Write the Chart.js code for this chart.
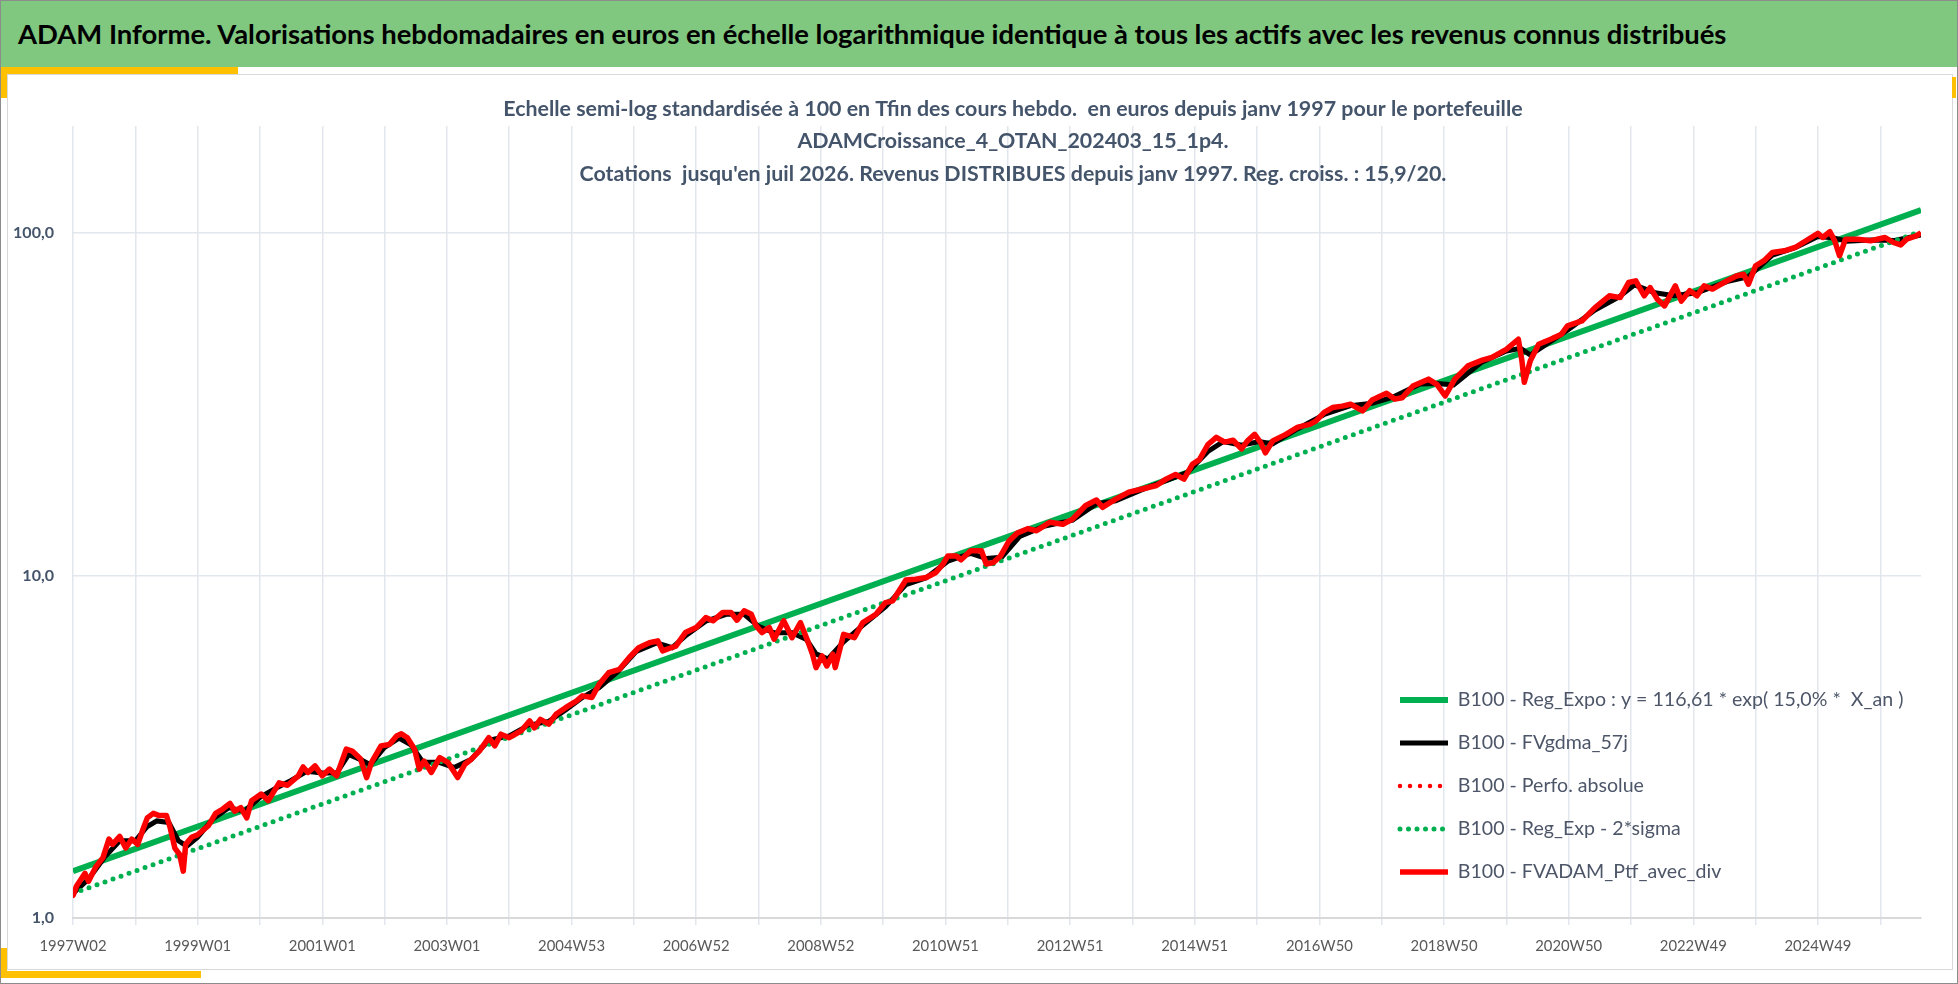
<!DOCTYPE html>
<html lang="fr">
<head>
<meta charset="utf-8">
<title>ADAM Informe</title>
<script src="https://cdn.jsdelivr.net/npm/chart.js@4.4.1/dist/chart.umd.min.js"></script>
<style>
    html, body { margin: 0; padding: 0; background: #fff; }
    #page { position: relative; width: 1958px; height: 984px; overflow: hidden; background: #fff;
            box-sizing: border-box; border: 1px solid #8c8c8c; }
    #banner { position: absolute; left: 0; top: 0; width: 1958px; height: 66px; background: #80c880; z-index: 3; }
    #banner span { position: absolute; left: 17px; top: 50%; transform: translateY(-52%);
                   font-family: Lato, sans-serif; font-weight: 700; color: #000; white-space: nowrap; }
    #card { position: absolute; left: 6px; top: 73px; width: 1946px; height: 896px;
            border: 1px solid #d9d9d9; box-sizing: border-box; background: #fff; z-index: 1; }
    .gold { position: absolute; background: #ffc000; z-index: 4; }
    #chart { position: absolute; left: 0; top: 0; z-index: 2; }
</style>
</head>
<body>
<div id="page">
    <div id="banner"><span id="bannerText"></span></div>
    <div id="card"></div>
    <div class="gold" style="left:0;top:66px;width:237px;height:7px"></div>
    <div class="gold" style="left:0;top:66px;width:6px;height:31px"></div>
    <div class="gold" style="left:1951px;top:76px;width:4px;height:21px"></div>
    <div class="gold" style="left:0;top:947px;width:6px;height:30px"></div>
    <div class="gold" style="left:0;top:970px;width:200px;height:7px"></div>
    <canvas id="chart" width="1958" height="984"></canvas>
</div>
<script>
const bannerTitle = "ADAM Informe. Valorisations hebdomadaires en euros en échelle logarithmique identique à tous les actifs avec les revenus connus distribués";
const titleLines = [
    "Echelle semi-log standardisée à 100 en Tfin des cours hebdo.  en euros depuis janv 1997 pour le portefeuille",
    "ADAMCroissance_4_OTAN_202403_15_1p4.",
    "Cotations  jusqu'en juil 2026. Revenus DISTRIBUES depuis janv 1997. Reg. croiss. : 15,9/20."
];
const seriesLabels = [
    "B100 - Reg_Expo : y = 116,61 * exp( 15,0% *  X_an )",
    "B100 - FVgdma_57j",
    "B100 - Perfo. absolue",
    "B100 - Reg_Exp - 2*sigma",
    "B100 - FVADAM_Ptf_avec_div"
];

// x = number of weeks since 1997W02, labels every 104 weeks
const xTickLabels = ['1997W02', '1999W01', '2001W01', '2003W01', '2004W53', '2006W52', '2008W52', '2010W51',
    '2012W51', '2014W51', '2016W50', '2018W50', '2020W50', '2022W49', '2024W49'];
const xLabelStep = 104;
const xGridStep = 52;
const lastWeek = 1542;
const yTicks = [1, 10, 100];
const yTickLabels = ['1,0', '10,0', '100,0'];

const regWeeks = [0, 1542];
const regValues = [1.37, 116.6];
const sigWeeks = [0, 1542];
const sigValues = [1.18, 101];

const ptfWeeks = [
    0, 3, 10, 13, 19, 25, 30, 33, 39, 44,
    49, 54, 58, 62, 67, 72, 78, 81, 85, 89,
    92, 94, 99, 104, 113, 119, 125, 131, 135, 140,
    145, 149, 157, 163, 172, 179, 188, 192, 196, 202,
    208, 214, 220, 228, 233, 240, 245, 249, 257, 264,
    270, 274, 279, 285, 289, 293, 299, 306, 313, 321,
    327, 332, 339, 347, 352, 357, 364, 374, 381, 385,
    390, 397, 403, 411, 420, 425, 433, 439, 447, 456,
    464, 472, 481, 488, 492, 499, 503, 511, 520, 528,
    534, 542, 549, 554, 560, 566, 570, 575, 581, 585,
    593, 600, 607, 613, 617, 620, 625, 629, 634, 636,
    643, 652, 659, 670, 678, 684, 695, 703, 712, 720,
    726, 730, 737, 741, 749, 758, 762, 768, 774, 781,
    788, 797, 804, 815, 826, 834, 845, 854, 859, 870,
    881, 893, 904, 912, 920, 927, 934, 940, 947, 954,
    961, 968, 975, 980, 986, 991, 995, 1001, 1012, 1022,
    1032, 1037, 1044, 1051, 1059, 1066, 1076, 1084, 1096, 1103,
    1109, 1118, 1131, 1138, 1145, 1153, 1164, 1176, 1184, 1196,
    1206, 1209, 1211, 1216, 1223, 1233, 1242, 1247, 1259, 1270,
    1282, 1291, 1298, 1304, 1311, 1316, 1322, 1328, 1337, 1342,
    1349, 1355, 1361, 1368, 1380, 1388, 1394, 1398, 1404, 1411,
    1418, 1428, 1437, 1446, 1456, 1460, 1466, 1470, 1474, 1479,
    1489, 1500, 1512, 1519, 1525, 1530, 1538, 1542
];
const ptfValues = [
    1.16, 1.24, 1.35, 1.28, 1.41, 1.50, 1.70, 1.64, 1.73, 1.60,
    1.70, 1.64, 1.80, 1.96, 2.02, 1.99, 1.99, 1.84, 1.60, 1.53,
    1.37, 1.64, 1.72, 1.75, 1.86, 2.02, 2.08, 2.16, 2.05, 2.10,
    1.96, 2.20, 2.30, 2.20, 2.48, 2.44, 2.60, 2.76, 2.66, 2.78,
    2.60, 2.72, 2.60, 3.11, 3.07, 2.91, 2.57, 2.84, 3.18, 3.21,
    3.40, 3.45, 3.36, 3.11, 2.72, 2.87, 2.66, 2.94, 2.84, 2.57,
    2.81, 2.90, 3.07, 3.36, 3.18, 3.44, 3.36, 3.52, 3.76, 3.59,
    3.80, 3.68, 3.93, 4.11, 4.30, 4.45, 4.40, 4.81, 5.20, 5.32,
    5.75, 6.15, 6.36, 6.44, 6.02, 6.15, 6.22, 6.81, 7.04, 7.53,
    7.37, 7.79, 7.79, 7.40, 7.88, 7.70, 7.12, 6.81, 7.04, 6.51,
    7.37, 6.58, 7.28, 6.44, 5.89, 5.38, 5.82, 5.44, 5.89, 5.38,
    6.73, 6.58, 7.28, 7.70, 8.33, 8.43, 9.70, 9.75, 9.86, 10.2,
    10.8, 11.4, 11.4, 11.1, 11.8, 11.8, 10.8, 10.9, 11.4, 12.6,
    13.3, 13.7, 13.5, 14.3, 14.1, 14.6, 16.0, 16.6, 15.8, 16.7,
    17.5, 17.9, 18.3, 19.1, 19.7, 19.1, 21.1, 21.8, 24.1, 25.3,
    24.5, 24.8, 23.4, 24.7, 25.8, 24.4, 22.8, 24.7, 25.8, 27.1,
    27.6, 28.2, 29.9, 30.9, 31.2, 31.6, 30.2, 32.5, 34.0, 32.7,
    33.0, 35.7, 37.4, 36.1, 33.4, 37.4, 40.9, 42.5, 43.3, 45.7,
    48.9, 42.3, 36.6, 42.3, 47.3, 48.9, 50.6, 53.5, 55.3, 60.5,
    65.5, 64.7, 71.6, 72.4, 65.5, 69.2, 64.0, 61.2, 70.0, 63.2,
    67.8, 65.5, 70.0, 68.5, 72.4, 74.8, 75.7, 70.8, 80.1, 82.9,
    87.6, 88.6, 90.6, 94.8, 99.6, 96.9, 100.7, 94.8, 85.7, 95.8,
    95.8, 94.8, 96.9, 93.7, 92.2, 95.8, 98.0, 100
];

const mmWeeks = [
    0, 13, 26, 39, 52, 62, 70, 80, 88, 95,
    104, 117, 130, 143, 156, 170, 182, 195, 208, 220,
    230, 240, 248, 260, 272, 282, 292, 305, 318, 332,
    347, 364, 380, 397, 411, 425, 439, 455, 470, 487,
    500, 512, 528, 545, 560, 572, 585, 600, 612, 620,
    630, 643, 658, 678, 695, 712, 730, 749, 762, 775,
    790, 810, 834, 854, 870, 892, 912, 930, 947, 960,
    975, 990, 1001, 1022, 1044, 1066, 1084, 1102, 1124, 1138,
    1152, 1175, 1196, 1208, 1216, 1233, 1247, 1270, 1290, 1303,
    1320, 1336, 1355, 1380, 1398, 1418, 1437, 1456, 1470, 1480,
    1500, 1520, 1542
];
const mmValues = [
    1.18, 1.30, 1.50, 1.68, 1.68, 1.85, 1.92, 1.90, 1.68, 1.62,
    1.72, 1.95, 2.10, 2.05, 2.25, 2.40, 2.52, 2.68, 2.65, 2.65,
    3.00, 2.90, 2.80, 3.15, 3.35, 3.20, 2.85, 2.85, 2.75, 2.90,
    3.30, 3.40, 3.65, 3.75, 4.05, 4.40, 4.70, 5.25, 6.00, 6.35,
    6.15, 6.70, 7.35, 7.70, 7.70, 7.10, 6.80, 6.80, 6.50, 5.90,
    5.70, 6.40, 7.10, 8.10, 9.40, 9.85, 11.0, 11.6, 11.2, 11.3,
    13.0, 13.9, 14.5, 16.2, 16.5, 17.8, 18.9, 20.0, 23.0, 24.6,
    24.0, 24.6, 24.2, 26.8, 29.5, 31.3, 31.8, 33.2, 36.2, 36.3,
    36.0, 41.8, 45.2, 46.0, 44.0, 48.2, 52.0, 59.5, 65.0, 70.5,
    66.8, 65.5, 66.8, 72.0, 74.5, 86.0, 90.5, 97.5, 96.5, 94.5,
    95.2, 95.0, 98.5
];

const FONT = 'Lato';
const TITLE_COLOR = '#44546a';
const TITLE_CENTER_X = 1012;
const LEGEND_X = 1399;
const LEGEND_Y = 699;
const LEGEND_ROW = 43;

const measureCtx = document.createElement('canvas').getContext('2d');
function fitSize(text, weight, width) {
    measureCtx.font = `${weight} 100px ${FONT}`;
    return 100 * width / measureCtx.measureText(text).width;
}

const bannerSize = fitSize(bannerTitle, 700, 1710);
const titleSize = fitSize(titleLines[2], 700, 867);
const legendSize = fitSize(seriesLabels[0], 400, 446);
const xSize = fitSize(xTickLabels[0], 400, 67);
const ySize = fitSize(yTickLabels[2], 700, 41);

const bannerEl = document.getElementById('bannerText');
bannerEl.textContent = bannerTitle;
bannerEl.style.fontSize = bannerSize + 'px';

function toPoints(weeks, values) {
    return weeks.map((w, i) => ({ x: w, y: values[i] }));
}

const gridWeeks = [];
for (let w = 0; w < lastWeek; w += xGridStep) gridWeeks.push(w);

// moves the title and the legend to where the original has them
const placeBoxes = {
    id: 'placeBoxes',
    afterLayout(chart) {
        const t = chart.titleBlock;
        t.left = 2 * TITLE_CENTER_X - t.right;
        const lg = chart.legend;
        const pad = lg.options.labels.padding;
        lg.left = LEGEND_X - pad;
        lg.top = LEGEND_Y - legendSize / 2 - pad;
        lg.right = lg.left + lg.width;
        lg.bottom = chart.chartArea.bottom + 200;
    }
};

const ctx = document.getElementById('chart').getContext('2d');
new Chart(ctx, {
    type: 'line',
    data: {
        datasets: [
            {
                label: seriesLabels[0],
                data: toPoints(regWeeks, regValues),
                borderColor: '#00b050',
                borderWidth: 6,
                order: 5
            },
            {
                label: seriesLabels[1],
                data: toPoints(mmWeeks, mmValues),
                borderColor: '#000000',
                borderWidth: 5,
                order: 4
            },
            {
                label: seriesLabels[2],
                data: toPoints(ptfWeeks, ptfValues),
                borderColor: '#ff0000',
                borderWidth: 4.5,
                borderDash: [0, 10],
                borderCapStyle: 'round',
                order: 3
            },
            {
                label: seriesLabels[3],
                data: toPoints(sigWeeks, sigValues),
                borderColor: '#00b050',
                borderWidth: 5,
                borderDash: [0, 8.5],
                borderCapStyle: 'round',
                order: 2
            },
            {
                label: seriesLabels[4],
                data: toPoints(ptfWeeks, ptfValues),
                borderColor: '#ff0000',
                borderWidth: 5.5,
                borderJoinStyle: 'round',
                order: 1
            }
        ]
    },
    options: {
        responsive: false,
        animation: false,
        events: [],
        elements: {
            point: { radius: 0 },
            line: { tension: 0, fill: false }
        },
        layout: {
            padding: { left: 0, right: 38, top: 0, bottom: 19 }
        },
        plugins: {
            title: {
                display: true,
                text: titleLines,
                color: TITLE_COLOR,
                font: { family: FONT, size: titleSize, weight: 'bold', lineHeight: 32.5 / titleSize },
                padding: { top: 91.75, bottom: -64.25 }
            },
            legend: {
                display: true,
                position: 'chartArea',
                align: 'start',
                labels: {
                    usePointStyle: true,
                    pointStyle: 'line',
                    pointStyleWidth: 48,
                    color: '#4d5668',
                    font: { family: FONT, size: legendSize },
                    padding: LEGEND_ROW - legendSize,
                    sort: (a, b) => a.datasetIndex - b.datasetIndex,
                    generateLabels: function(chart) {
                        const items = Chart.defaults.plugins.legend.labels.generateLabels(chart);
                        return items.map(item => {
                            const ds = chart.data.datasets[item.datasetIndex];
                            item.lineDash = ds.borderDash || [];
                            item.lineCap = ds.borderCapStyle || 'butt';
                            item.lineWidth = ds.borderWidth;
                            item.strokeStyle = ds.borderColor;
                            return item;
                        });
                    }
                }
            },
            tooltip: { enabled: false }
        },
        scales: {
            x: {
                type: 'linear',
                min: 0,
                max: lastWeek,
                afterBuildTicks: (scale) => {
                    scale.ticks = gridWeeks.map(v => ({ value: v }));
                },
                afterFit: (scale) => { scale.height = 48; },
                grid: {
                    color: '#e2e6ed',
                    lineWidth: 1.5,
                    tickLength: 7
                },
                border: { color: '#d9d9d9', width: 2 },
                ticks: {
                    autoSkip: false,
                    maxRotation: 0,
                    padding: 12,
                    color: '#595959',
                    font: { family: FONT, size: xSize },
                    callback: function(value) {
                        if (value % xLabelStep !== 0) return '';
                        return xTickLabels[value / xLabelStep] || '';
                    }
                }
            },
            y: {
                type: 'logarithmic',
                min: 1,
                max: 205,
                afterBuildTicks: (scale) => {
                    scale.ticks = yTicks.map(v => ({ value: v }));
                },
                afterFit: (scale) => { scale.width = 72; },
                grid: {
                    color: '#e2e6ed',
                    lineWidth: 1.5,
                    drawTicks: false
                },
                border: { display: false },
                ticks: {
                    padding: 19,
                    color: TITLE_COLOR,
                    font: { family: FONT, size: ySize, weight: 'bold' },
                    callback: function(value) {
                        const i = yTicks.indexOf(value);
                        return i >= 0 ? yTickLabels[i] : '';
                    }
                }
            }
        }
    },
    plugins: [placeBoxes]
});
</script>
</body>
</html>
